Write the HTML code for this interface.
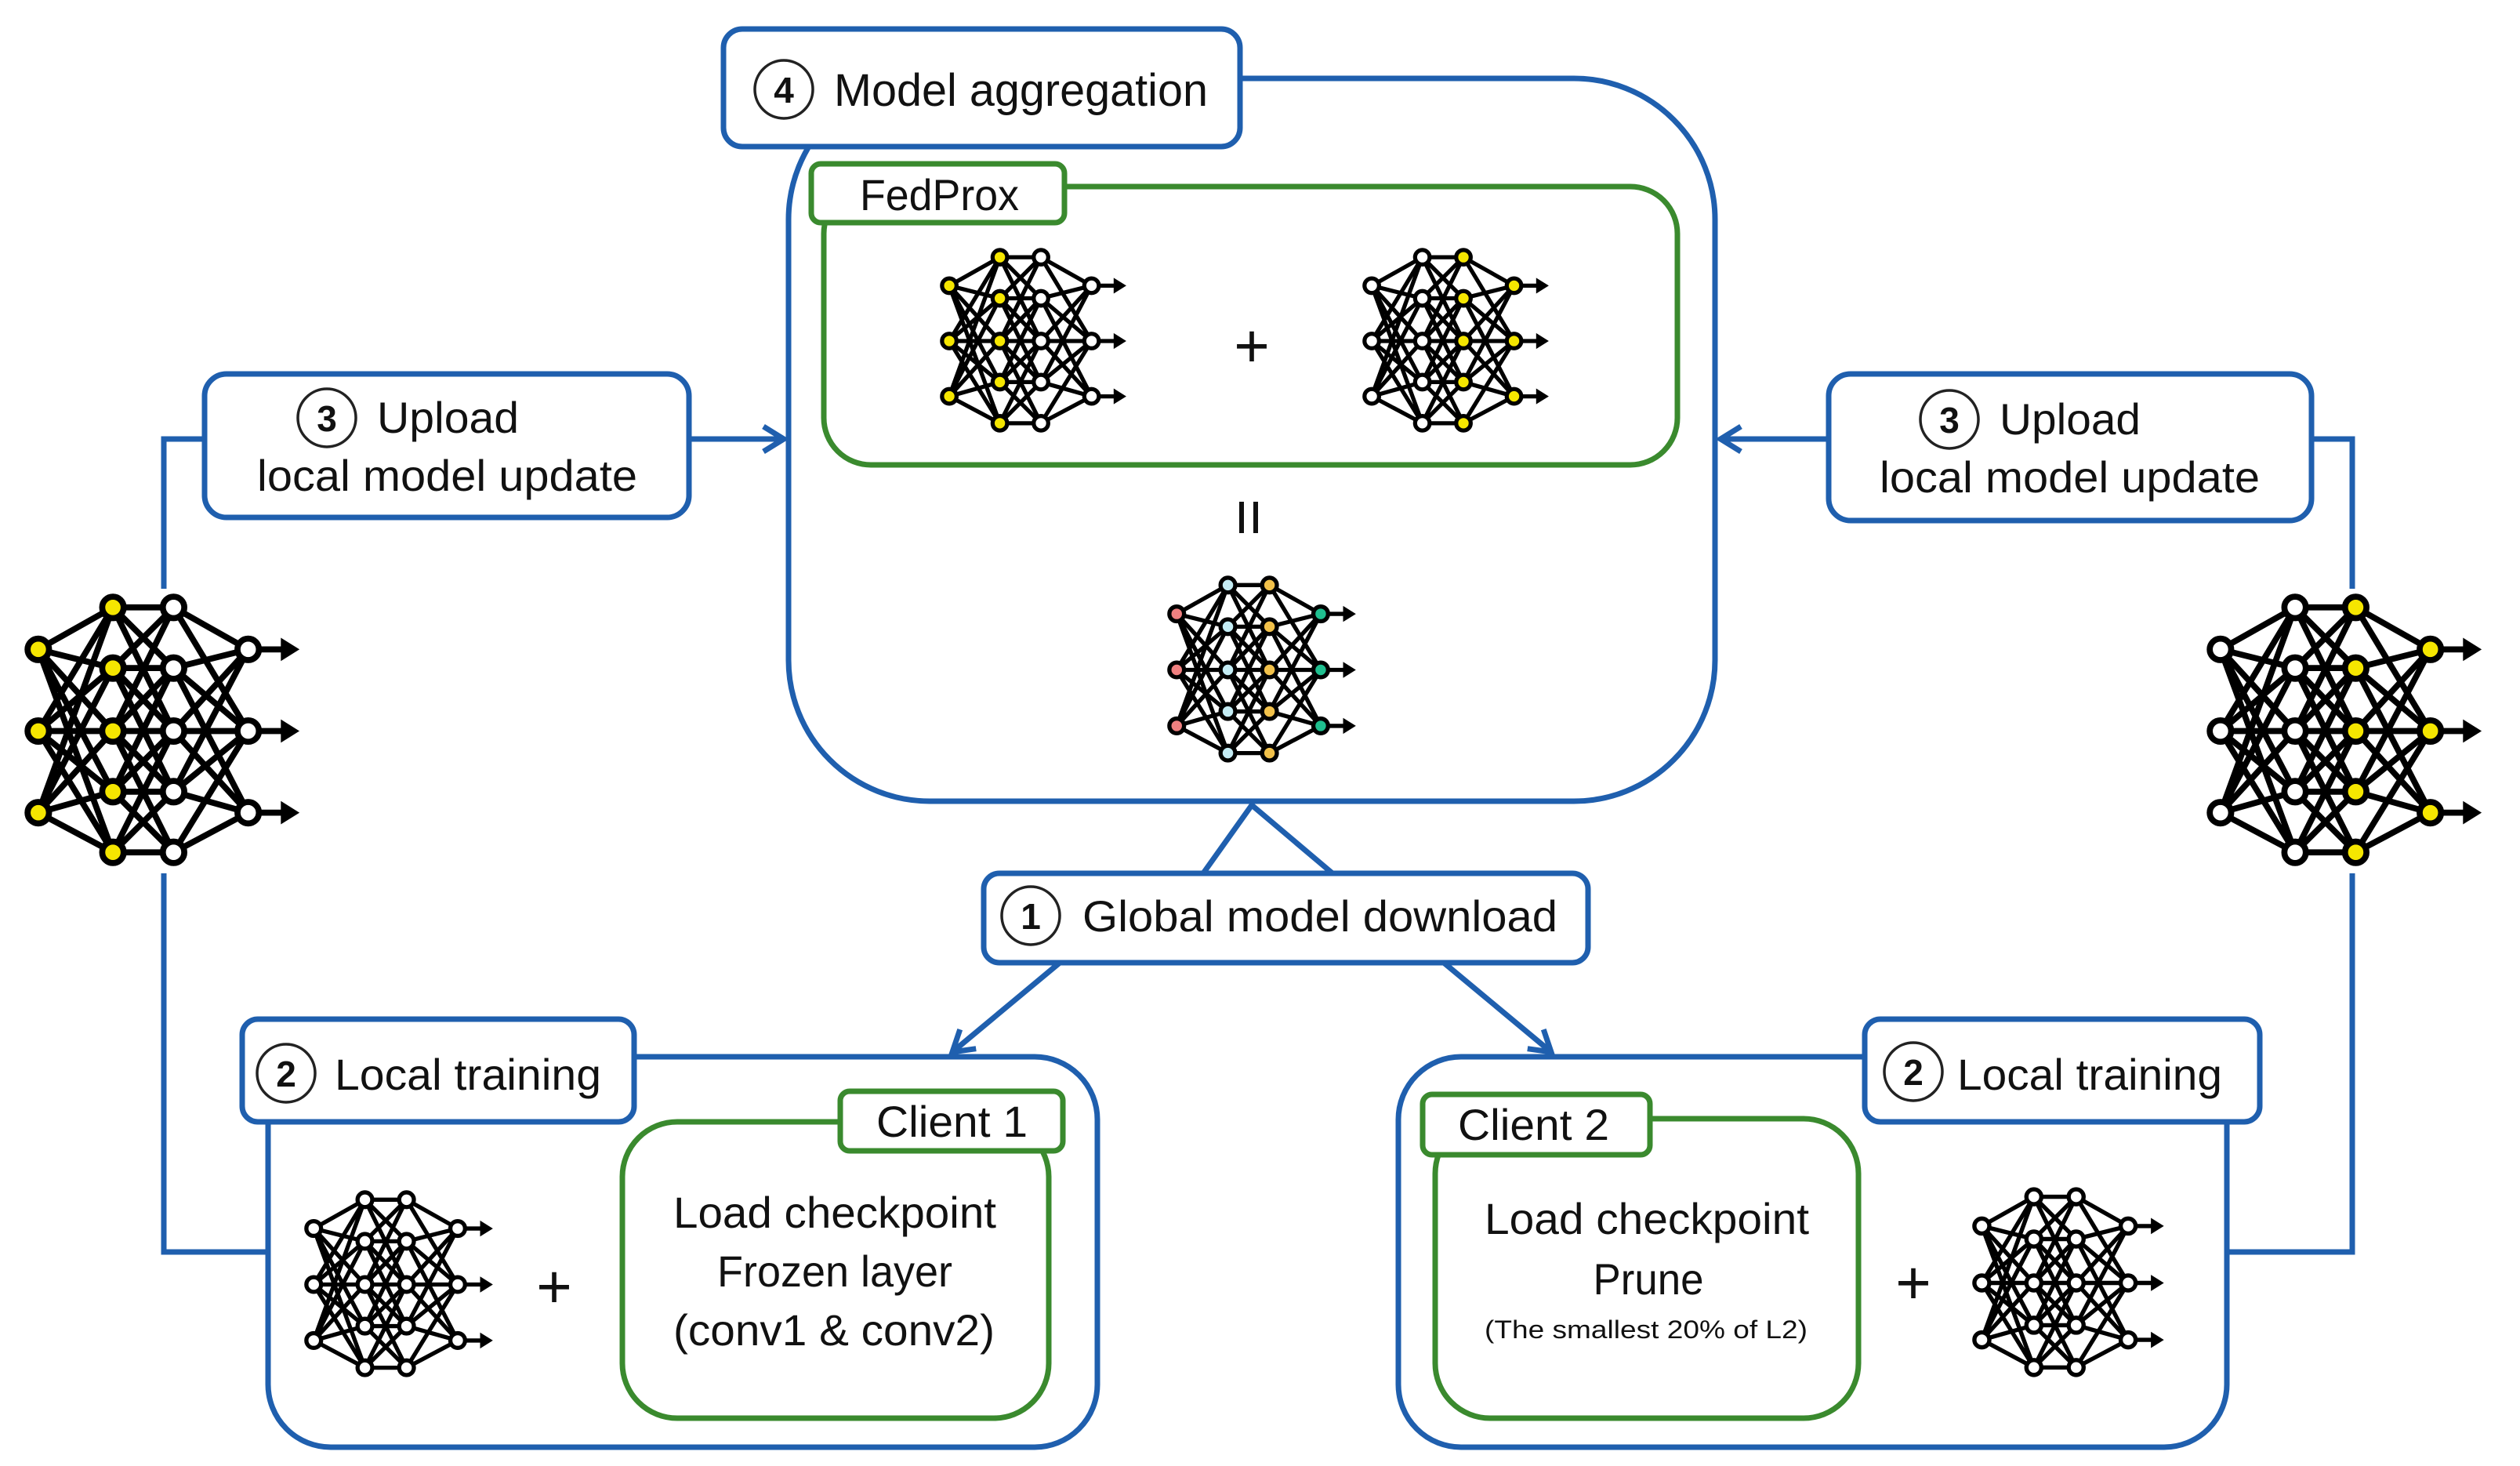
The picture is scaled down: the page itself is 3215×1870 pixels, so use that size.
<!DOCTYPE html>
<html><head><meta charset="utf-8"><style>
html,body{margin:0;padding:0;background:#fff;}
svg{display:block;}
text{font-family:"Liberation Sans",sans-serif;fill:#111;}
.b{fill:#fff;stroke:#1f5fae;stroke-width:7;}
.bl{fill:none;stroke:#1f5fae;stroke-width:7;}
.g{fill:#fff;stroke:#3a8a2e;stroke-width:7;}
.c{fill:#fff;stroke:#222;stroke-width:3.5;}
</style></head><body>
<svg width="3215" height="1870" viewBox="0 0 3215 1870" xmlns="http://www.w3.org/2000/svg">
<defs>
<symbol id="net" viewBox="0 0 122 122">
<g stroke="#000" stroke-width="2.6" fill="none">
<path d="M6 26L38 8M6 26L38 34M6 26L38 61M6 26L38 87M6 26L38 113M6 61L38 8M6 61L38 34M6 61L38 61M6 61L38 87M6 61L38 113M6 96L38 8M6 96L38 34M6 96L38 61M6 96L38 87M6 96L38 113"/>
<path d="M38 8L64 8M38 8L64 34M38 8L64 61M38 34L64 8M38 34L64 34M38 34L64 61M38 34L64 87M38 61L64 8M38 61L64 34M38 61L64 61M38 61L64 87M38 61L64 113M38 87L64 34M38 87L64 61M38 87L64 87M38 87L64 113M38 113L64 61M38 113L64 87M38 113L64 113"/>
<path d="M64 8L96 26M64 8L96 61M64 34L96 26M64 34L96 61M64 34L96 96M64 61L96 26M64 61L96 61M64 61L96 96M64 87L96 26M64 87L96 61M64 87L96 96M64 113L96 61M64 113L96 96"/>
<path d="M96 26H114M96 61H114M96 96H114"/>
</g>
<path d="M110 21L118 26L110 31Z M110 56L118 61L110 66Z M110 91L118 96L110 101Z" fill="#000"/>
<g stroke="#000" stroke-width="2.6">
<circle cx="6" cy="26" r="4.6" style="fill:var(--i)"/><circle cx="6" cy="61" r="4.6" style="fill:var(--i)"/><circle cx="6" cy="96" r="4.6" style="fill:var(--i)"/>
<circle cx="38" cy="8" r="4.6" style="fill:var(--a)"/><circle cx="38" cy="34" r="4.6" style="fill:var(--a)"/><circle cx="38" cy="61" r="4.6" style="fill:var(--a)"/><circle cx="38" cy="87" r="4.6" style="fill:var(--a)"/><circle cx="38" cy="113" r="4.6" style="fill:var(--a)"/>
<circle cx="64" cy="8" r="4.6" style="fill:var(--h)"/><circle cx="64" cy="34" r="4.6" style="fill:var(--h)"/><circle cx="64" cy="61" r="4.6" style="fill:var(--h)"/><circle cx="64" cy="87" r="4.6" style="fill:var(--h)"/><circle cx="64" cy="113" r="4.6" style="fill:var(--h)"/>
<circle cx="96" cy="26" r="4.6" style="fill:var(--o)"/><circle cx="96" cy="61" r="4.6" style="fill:var(--o)"/><circle cx="96" cy="96" r="4.6" style="fill:var(--o)"/>
</g>
</symbol>
<marker id="ah" markerWidth="40" markerHeight="40" refX="34" refY="20" orient="auto" markerUnits="userSpaceOnUse">
<path d="M8 4L34 20L8 36" fill="none" stroke="#1f5fae" stroke-width="7"/>
</marker>
</defs>

<!-- connector lines left/right -->
<path class="bl" d="M261 560H209V751M209 1114V1597H342"/>
<path class="bl" d="M2949 560H3001V751M3001 1114V1597H2841"/>
<path class="bl" d="M879 560H1000" marker-end="url(#ah)"/>
<path class="bl" d="M2333 560H2195" marker-end="url(#ah)"/>
<path class="bl" d="M1535 1114L1597 1027L1700 1114"/>
<path class="bl" d="M1352 1228L1215 1342" marker-end="url(#ah)"/>
<path class="bl" d="M1842 1228L1979 1342" marker-end="url(#ah)"/>

<!-- main aggregation box -->
<rect class="b" x="1006" y="100" width="1182" height="922" rx="180"/>
<rect class="b" x="923" y="37" width="659" height="150" rx="24"/>
<circle class="c" cx="1000" cy="114" r="37"/>
<text x="1000" y="131" font-size="46" font-weight="bold" text-anchor="middle">4</text>
<text x="1064" y="135" font-size="58" textLength="477" lengthAdjust="spacingAndGlyphs">Model aggregation</text>

<rect class="g" x="1051" y="238" width="1089" height="355" rx="60"/>
<rect class="g" x="1035" y="209" width="323" height="75" rx="12"/>
<text x="1097" y="268" font-size="56" textLength="203" lengthAdjust="spacingAndGlyphs">FedProx</text>
<use href="#net" x="1199" y="312" width="246" height="246" style="--i:#f5e600;--a:#f5e600;--h:#fff;--o:#fff"/>
<use href="#net" x="1738" y="312" width="246" height="246" style="--i:#fff;--a:#fff;--h:#f5e600;--o:#f5e600"/>
<text x="1597" y="468" font-size="78" text-anchor="middle">+</text>
<path d="M1584 640V680M1602 640V680" stroke="#111" stroke-width="6"/>
<use href="#net" x="1489" y="730" width="249" height="249" style="--i:#f08080;--a:#c4ecf4;--h:#f2c14a;--o:#1fbf8f"/>

<!-- upload boxes -->
<rect class="b" x="261" y="477" width="618" height="183" rx="28"/>
<circle class="c" cx="417" cy="533" r="37"/>
<text x="417" y="550" font-size="46" font-weight="bold" text-anchor="middle">3</text>
<text x="481" y="552" font-size="56" textLength="181" lengthAdjust="spacingAndGlyphs">Upload</text>
<text x="328" y="626" font-size="56" textLength="485" lengthAdjust="spacingAndGlyphs">local model update</text>

<rect class="b" x="2333" y="477" width="616" height="187" rx="28"/>
<circle class="c" cx="2487" cy="535" r="37"/>
<text x="2487" y="552" font-size="46" font-weight="bold" text-anchor="middle">3</text>
<text x="2551" y="554" font-size="56" textLength="180" lengthAdjust="spacingAndGlyphs">Upload</text>
<text x="2398" y="628" font-size="56" textLength="485" lengthAdjust="spacingAndGlyphs">local model update</text>

<!-- side networks -->
<use href="#net" x="31" y="751" width="363" height="363" style="--i:#f5e600;--a:#f5e600;--h:#fff;--o:#fff"/>
<use href="#net" x="2815" y="751" width="363" height="363" style="--i:#fff;--a:#fff;--h:#f5e600;--o:#f5e600"/>

<!-- global model download -->
<rect class="b" x="1255" y="1114" width="771" height="114" rx="20"/>
<circle class="c" cx="1315" cy="1168" r="37"/>
<text x="1315" y="1185" font-size="46" font-weight="bold" text-anchor="middle">1</text>
<text x="1381" y="1188" font-size="56" textLength="606" lengthAdjust="spacingAndGlyphs">Global model download</text>

<!-- client 1 -->
<rect class="b" x="342" y="1348" width="1058" height="498" rx="80"/>
<rect class="b" x="309" y="1300" width="500" height="131" rx="20"/>
<circle class="c" cx="365" cy="1369" r="37"/>
<text x="365" y="1386" font-size="46" font-weight="bold" text-anchor="middle">2</text>
<text x="427" y="1390" font-size="56" textLength="340" lengthAdjust="spacingAndGlyphs">Local training</text>
<rect class="g" x="794" y="1431" width="544" height="378" rx="70"/>
<rect class="g" x="1072" y="1392" width="284" height="76" rx="12"/>
<text x="1118" y="1450" font-size="56" textLength="193" lengthAdjust="spacingAndGlyphs">Client 1</text>
<text x="1065" y="1566" font-size="56" text-anchor="middle" textLength="412" lengthAdjust="spacingAndGlyphs">Load checkpoint</text>
<text x="1065" y="1641" font-size="56" text-anchor="middle" textLength="300" lengthAdjust="spacingAndGlyphs">Frozen layer</text>
<text x="1064" y="1716" font-size="56" text-anchor="middle" textLength="410" lengthAdjust="spacingAndGlyphs">(conv1 &amp; conv2)</text>
<use href="#net" x="388" y="1514" width="249" height="249" style="--i:#fff;--a:#fff;--h:#fff;--o:#fff"/>
<text x="707" y="1668" font-size="78" text-anchor="middle">+</text>

<!-- client 2 -->
<rect class="b" x="1784" y="1348" width="1057" height="498" rx="80"/>
<rect class="b" x="2379" y="1300" width="504" height="131" rx="20"/>
<circle class="c" cx="2441" cy="1367" r="37"/>
<text x="2441" y="1384" font-size="46" font-weight="bold" text-anchor="middle">2</text>
<text x="2497" y="1390" font-size="56" textLength="338" lengthAdjust="spacingAndGlyphs">Local training</text>
<rect class="g" x="1831" y="1427" width="540" height="382" rx="70"/>
<rect class="g" x="1815" y="1396" width="290" height="77" rx="12"/>
<text x="1860" y="1454" font-size="56" textLength="193" lengthAdjust="spacingAndGlyphs">Client 2</text>
<text x="2101" y="1574" font-size="56" text-anchor="middle" textLength="414" lengthAdjust="spacingAndGlyphs">Load checkpoint</text>
<text x="2103" y="1651" font-size="56" text-anchor="middle" textLength="141" lengthAdjust="spacingAndGlyphs">Prune</text>
<text x="2100" y="1707" font-size="32" text-anchor="middle" textLength="412" lengthAdjust="spacingAndGlyphs">(The smallest 20% of L2)</text>
<text x="2441" y="1663" font-size="78" text-anchor="middle">+</text>
<use href="#net" x="2516" y="1510" width="253" height="253" style="--i:#fff;--a:#fff;--h:#fff;--o:#fff"/>
</svg>
</body></html>
